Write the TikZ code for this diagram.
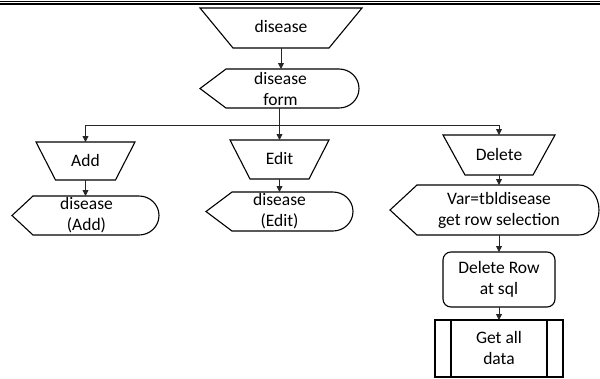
\documentclass[tikz,border=0pt]{standalone}
\usepackage{fontspec}
\setmainfont{Carlito}
\usetikzlibrary{arrows.meta}
\begin{document}
\begin{tikzpicture}[x=1pt,y=-1pt,
  frame/.style 2 args={inner sep=0pt, outer sep=0pt, minimum width=#1, minimum height=#2},
  txt/.style={inner sep=0pt, align=center, font=\fontsize{17.5}{21}\selectfont},
  shp/.style={draw=black, line width=1.1pt, line join=miter},
  flow/.style={draw=black!85, line width=0.8pt, -{Triangle[length=6pt,width=6pt]}},
  link/.style={draw=black!85, line width=0.8pt}
]
\useasboundingbox (0,0) rectangle (600,378);

% double rule across the top
\draw[line width=1pt] (0,1) -- (600,1);
\draw[line width=1.8pt] (0,4.2) -- (600,4.2);

% shape frames (outline drawn from the anchors)
\node[frame={162pt}{40pt}] (top) at (281,28) {};
\node[frame={159pt}{39pt}] (form) at (279.5,88.5) {};
\node[frame={99pt}{38pt}] (add) at (85.5,161) {};
\node[frame={147pt}{39pt}] (adddisp) at (85.5,215.5) {};
\node[frame={99pt}{39pt}] (edit) at (279.5,159.5) {};
\node[frame={147pt}{39pt}] (editdisp) at (279.5,211.5) {};
\node[frame={112pt}{40pt}] (delete) at (499,155) {};
\node[frame={209pt}{50pt}] (deldisp) at (494.5,210) {};
\node[frame={112pt}{55pt}] (delrow) at (499,279.5) {};
\node[frame={128pt}{57pt}] (getall) at (499,348.5) {};

% manual input trapezoids
\draw[shp] (top.north west) -- (top.north east) -- ([xshift=-33pt]top.south east) -- ([xshift=33pt]top.south west) -- cycle;
\draw[shp] (add.north west) -- (add.north east) -- ([xshift=-19.5pt]add.south east) -- ([xshift=19.5pt]add.south west) -- cycle;
\draw[shp] (edit.north west) -- (edit.north east) -- ([xshift=-20pt]edit.south east) -- ([xshift=20pt]edit.south west) -- cycle;
\draw[shp] (delete.north west) -- (delete.north east) -- ([xshift=-22pt]delete.south east) -- ([xshift=22pt]delete.south west) -- cycle;

% display shapes
\draw[shp] ([xshift=26pt]form.north west) -- ([xshift=-20pt]form.north east)
  arc[start angle=90, end angle=-90, x radius=20pt, y radius=19.5pt]
  -- ([xshift=26pt]form.south west) -- (form.west) -- cycle;
\draw[shp] ([xshift=21pt]adddisp.north west) -- ([xshift=-20pt]adddisp.north east)
  arc[start angle=90, end angle=-90, x radius=20pt, y radius=19.5pt]
  -- ([xshift=21pt]adddisp.south west) -- (adddisp.west) -- cycle;
\draw[shp] ([xshift=26pt]editdisp.north west) -- ([xshift=-20pt]editdisp.north east)
  arc[start angle=90, end angle=-90, x radius=20pt, y radius=19.5pt]
  -- ([xshift=26pt]editdisp.south west) -- (editdisp.west) -- cycle;
\draw[shp] ([xshift=27pt]deldisp.north west) -- ([xshift=-20pt]deldisp.north east)
  arc[start angle=90, end angle=-90, x radius=20pt, y radius=25pt]
  -- ([xshift=27pt]deldisp.south west) -- (deldisp.west) -- cycle;

% process and predefined process
\draw[shp, rounded corners=8pt] (delrow.north west) rectangle (delrow.south east);
\draw[shp] (getall.north west) rectangle (getall.south east);
\draw[shp] ([xshift=16pt]getall.north west) -- ([xshift=16pt]getall.south west);
\draw[shp] ([xshift=-16pt]getall.north east) -- ([xshift=-16pt]getall.south east);

% texts
\node[txt] (top-t) at ([yshift=2pt]top.center) {disease};
\node[txt] (form-t) at ([xshift=1pt]form.center) {disease\\form};
\node[txt] (add-t) at ([yshift=1pt]add.center) {Add};
\node[txt] (adddisp-t) at ([xshift=1pt]adddisp.center) {disease\\(Add)};
\node[txt] (edit-t) at ([yshift=1pt]edit.center) {Edit};
\node[txt] (editdisp-t) at (editdisp.center) {disease\\(Edit)};
\node[txt] (delete-t) at ([yshift=1pt]delete.center) {Delete};
\node[txt] (deldisp-t) at (delete |- deldisp) {Var=tbldisease\\get row selection};
\node[txt] (delrow-t) at (delrow.center) {Delete Row\\at sql};
\node[txt] (getall-t) at ([yshift=1pt]getall.center) {Get all\\data};

% connectors
\coordinate (split) at (279.5,125);
\draw[flow] (top.south) -- (top.south |- form.north);
\draw[link] (form.south) -- (split);
\draw[flow] (split) -- (edit.north);
\draw[flow] (split) -| (add.north);
\draw[flow] (split) -| (delete.north);
\draw[flow] (add.south) -- (adddisp.north);
\draw[flow] (edit.south) -- (editdisp.north);
\draw[flow] (delete.south) -- (delete.south |- deldisp.north);
\draw[flow] (delete.south |- deldisp.south) -- (delrow.north);
\draw[flow] (delrow.south) -- (getall.north);
\end{tikzpicture}
\end{document}
